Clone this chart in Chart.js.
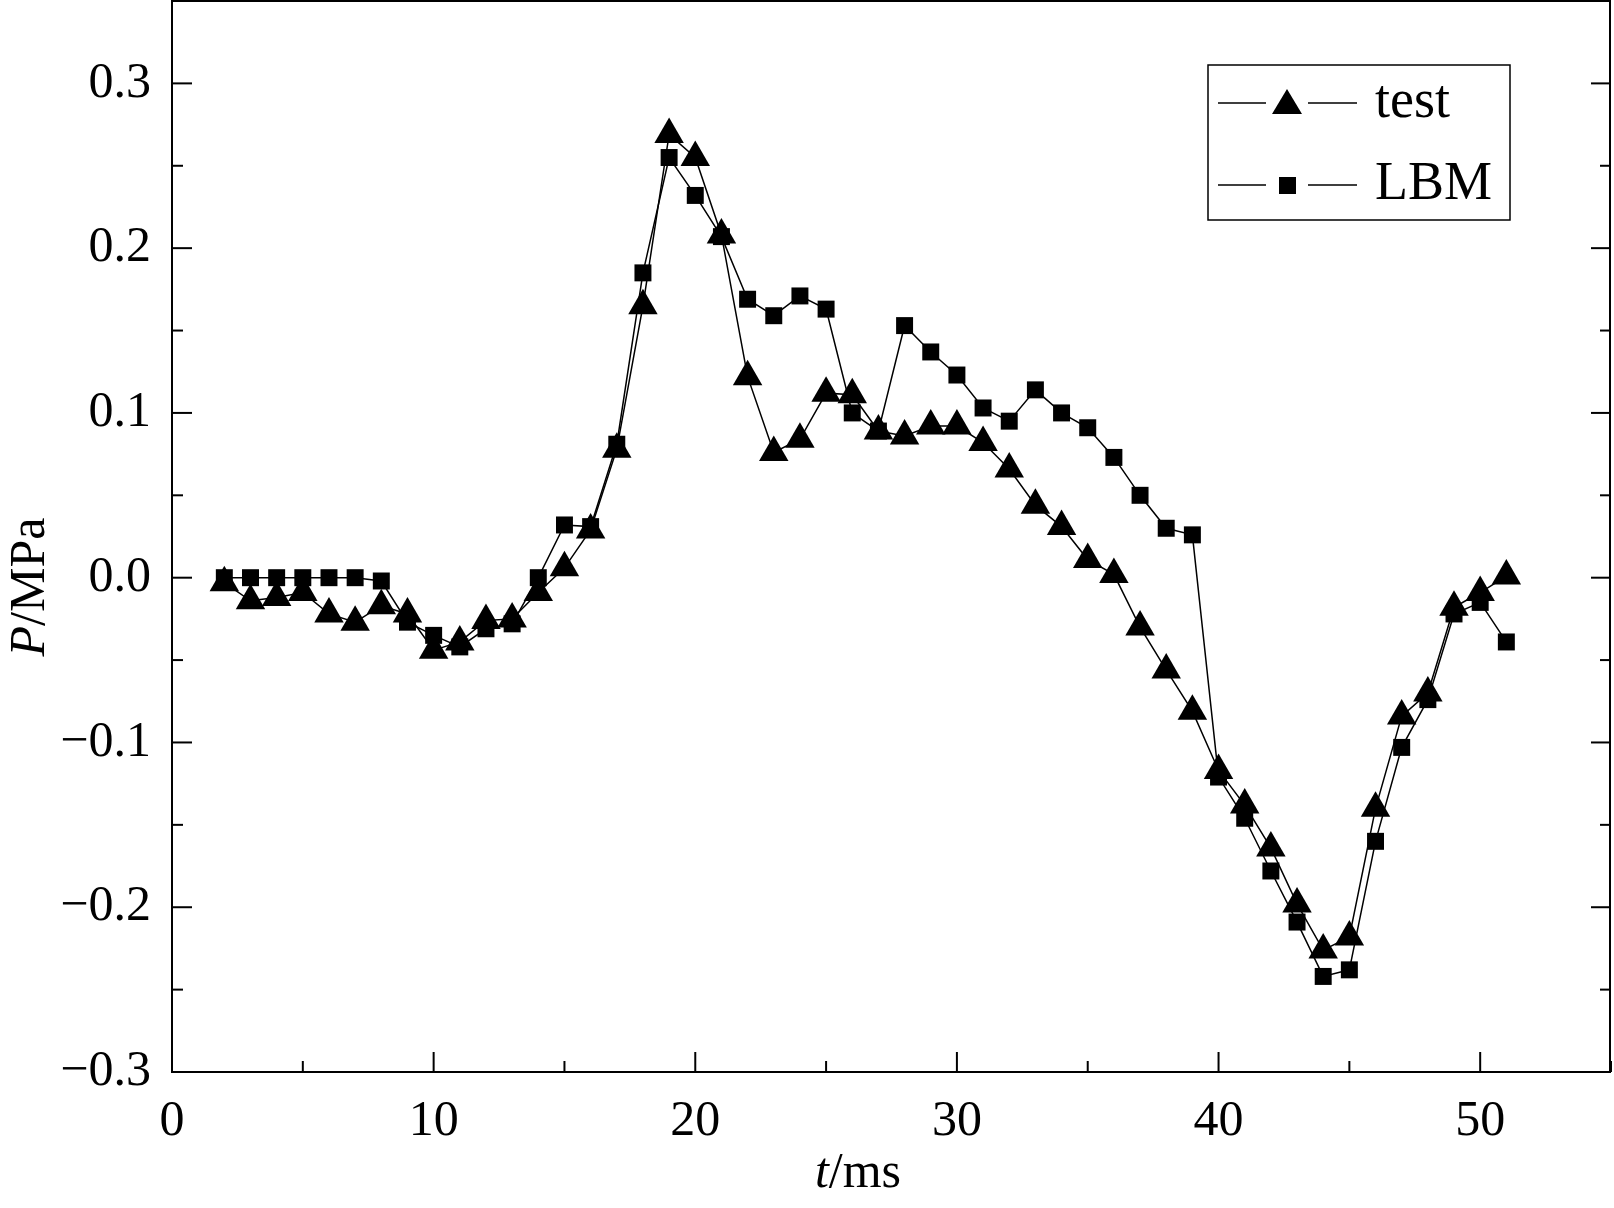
<!DOCTYPE html>
<html><head><meta charset="utf-8">
<script src="https://cdn.jsdelivr.net/npm/chart.js@4/dist/chart.umd.min.js"></script>
<style>body{margin:0;background:#fff}</style>
</head><body>
<canvas id="c" width="1614" height="1208"></canvas>
<script>
const tTimes = [2,3,4,5,6,7,8,9,10,11,12,13,14,15,16,17,18,19,20,21,22,23,24,25,26,27,28,29,30,31,32,33,34,35,36,37,38,39,40,41,42,43,44,45,46,47,48,49,50,51];
const testP = [-0.003,-0.014,-0.012,-0.009,-0.022,-0.027,-0.017,-0.022,-0.044,-0.039,-0.026,-0.025,-0.009,0.006,0.029,0.078,0.165,0.269,0.255,0.208,0.122,0.076,0.084,0.112,0.111,0.089,0.086,0.092,0.092,0.082,0.066,0.044,0.031,0.011,0.002,-0.030,-0.056,-0.081,-0.117,-0.138,-0.164,-0.198,-0.226,-0.218,-0.140,-0.084,-0.070,-0.018,-0.009,0.001];
const lbmP = [0,0,0,0,0,0,-0.002,-0.027,-0.035,-0.042,-0.031,-0.028,0,0.032,0.031,0.081,0.185,0.255,0.232,0.207,0.169,0.159,0.171,0.163,0.100,0.089,0.153,0.137,0.123,0.103,0.095,0.114,0.100,0.091,0.073,0.050,0.030,0.026,-0.121,-0.146,-0.178,-0.209,-0.242,-0.238,-0.160,-0.103,-0.074,-0.022,-0.015,-0.039];
const xTicks = [0, 10, 20, 30, 40, 50];
const yTicks = [-0.3, -0.2, -0.1, 0, 0.1, 0.2, 0.3];
const legendNames = ['test', 'LBM'];

const FONT = '"Liberation Serif", "Times New Roman", serif';

const frame = {
  id: 'frame',
  afterLayout(chart) {
    const a = chart.chartArea, x = chart.scales.x, y = chart.scales.y;
    a.top = 1; y.top = 1; y.height = y.bottom - y.top; y.configure();
    a.right = 1611; x.right = 1611; x.width = x.right - x.left; x.configure();
    a.width = a.right - a.left; a.height = a.bottom - a.top;
  },
  afterDraw(chart) {
    const ctx = chart.ctx, a = chart.chartArea, x = chart.scales.x, y = chart.scales.y;
    ctx.save();
    ctx.strokeStyle = '#000'; ctx.lineWidth = 2;
    ctx.strokeRect(a.left, a.top, a.right - a.left - 1, a.bottom - a.top);
    // inward ticks
    for (let v = 0; v <= 55; v += 5) {
      const px = x.getPixelForValue(v), len = v % 10 === 0 ? 20 : 11;
      ctx.beginPath(); ctx.moveTo(px, a.bottom); ctx.lineTo(px, a.bottom - len); ctx.stroke();
    }
    for (let i = -6; i <= 7; i++) {
      const v = i * 0.05, py = y.getPixelForValue(v), len = i % 2 === 0 ? 20 : 11;
      ctx.beginPath(); ctx.moveTo(a.left, py); ctx.lineTo(a.left + len, py); ctx.stroke();
      ctx.beginPath(); ctx.moveTo(a.right, py); ctx.lineTo(a.right - len, py); ctx.stroke();
    }
    // axis titles
    ctx.fillStyle = '#000'; ctx.textBaseline = 'middle';
    const parts = (arr) => arr.reduce((w, p) => { ctx.font = p[1] + ' 50px ' + FONT; return w + ctx.measureText(p[0]).width; }, 0);
    const drawParts = (arr, x0, y0) => { let xx = x0; arr.forEach(p => { ctx.font = p[1] + ' 50px ' + FONT; ctx.fillText(p[0], xx, y0); xx += ctx.measureText(p[0]).width; }); };
    ctx.textAlign = 'left';
    const xt = [['t', 'italic'], ['/ms', 'normal']];
    drawParts(xt, 858 - parts(xt) / 2, 1174);
    const yt = [['P', 'italic'], ['/MPa', 'normal']];
    ctx.translate(31, 587); ctx.rotate(-Math.PI / 2);
    drawParts(yt, -parts(yt) / 2, 0);
    ctx.restore();
    // legend
    ctx.save();
    ctx.strokeStyle = '#000'; ctx.lineWidth = 1.5;
    ctx.strokeRect(1208, 65, 302, 155);
    [103, 185].forEach((yy, i) => {
      ctx.beginPath(); ctx.moveTo(1218, yy); ctx.lineTo(1266, yy); ctx.moveTo(1308, yy); ctx.lineTo(1357, yy); ctx.stroke();
      ctx.fillStyle = '#000';
      ctx.beginPath();
      if (i === 0) { ctx.moveTo(1287, yy - 14); ctx.lineTo(1302, yy + 11); ctx.lineTo(1272, yy + 11); ctx.closePath(); }
      else ctx.rect(1279, yy - 8, 17, 17);
      ctx.fill();
      ctx.font = '54px ' + FONT; ctx.textAlign = 'left'; ctx.textBaseline = 'middle';
      ctx.fillText(legendNames[i], 1375, yy);
    });
    ctx.restore();
  }
};

new Chart(document.getElementById('c'), {
  type: 'line',
  data: {
    datasets: [
      { label: legendNames[0], data: tTimes.map((t, i) => ({ x: t, y: testP[i] })), borderColor: '#000', borderWidth: 1.5,
        pointStyle: 'triangle', pointRadius: 17, backgroundColor: '#000', pointBorderWidth: 0 },
      { label: legendNames[1], data: tTimes.map((t, i) => ({ x: t, y: lbmP[i] })), borderColor: '#000', borderWidth: 1.5,
        pointStyle: 'rect', pointRadius: 12, backgroundColor: '#000', pointBorderWidth: 0 }
    ]
  },
  options: {
    responsive: false, devicePixelRatio: 1, animation: false,
    layout: { padding: { top: 0, right: 3, left: 0, bottom: 0 } },
    plugins: { legend: { display: false }, tooltip: { enabled: false } },
    scales: {
      x: {
        type: 'linear', min: 0, max: 55,
        grid: { display: false, drawTicks: false }, border: { display: false },
        afterBuildTicks: s => { s.ticks = xTicks.map(v => ({ value: v })); },
        ticks: { padding: 20, color: '#000', font: { family: FONT, size: 50 }, callback: v => String(v) },
        afterFit: s => { s.height = 136; }
      },
      y: {
        min: -0.3, max: 0.35,
        grid: { display: false, drawTicks: false }, border: { display: false },
        afterBuildTicks: s => { s.ticks = yTicks.map(v => ({ value: v })); },
        ticks: { padding: 21, color: '#000', font: { family: FONT, size: 50 },
          callback: v => (v < -1e-9 ? '\u2212' : '') + Math.abs(v).toFixed(1) },
        afterFit: s => { s.width = 172; }
      }
    }
  },
  plugins: [frame]
});
</script>
</body></html>
